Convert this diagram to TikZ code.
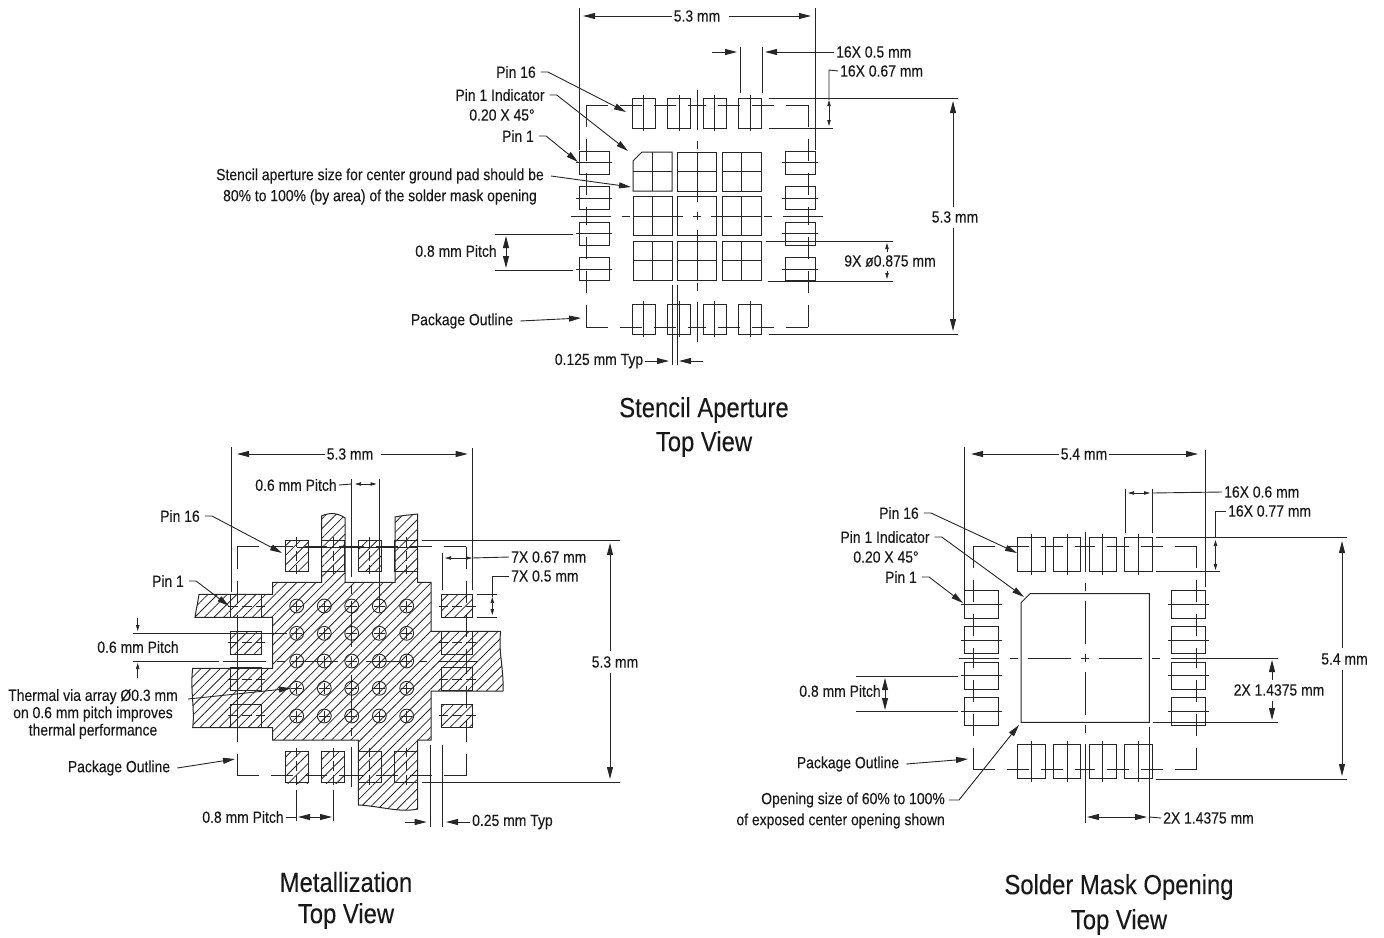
\documentclass[tikz,border=0pt]{standalone}
\usepackage{fontspec}
\setmainfont[FakeStretch=0.86,FakeBold=0.15]{Liberation Sans}
\usetikzlibrary{arrows.meta,patterns.meta}

\begin{document}
\begin{tikzpicture}
[x=1pt,y=-1pt,
  lineDecorate/.style={-,line width=0.9pt,black!85},%
  padDecorate/.style={draw,line width=1pt,black!85},%
  hatchFill/.style={pattern={Lines[angle=45,distance=6.8pt,line width=0.8pt]},pattern color=black!85},%
  hatchDecorate/.style={draw,line width=1pt,black!85,hatchFill},%
  outlineDecorate/.style={line width=1pt,black!85,dash pattern=on 22pt off 12pt},%
  solidCenter/.style={line width=0.9pt,black!85},%
  dashCenter/.style={line width=0.9pt,black!85,dash pattern=on 10pt off 4pt},%
  dimArrow/.style={-{Triangle[length=12pt,width=6pt]},line width=0.9pt,black!85},%
  smallArrow/.style={-{Triangle[length=6pt,width=3.4pt]},line width=0.75pt,black!85},%
  labelDecorate/.style={inner sep=2pt,font=\fontsize{16.2}{17.3}\selectfont,black!90},%
  titleDecorate/.style={inner sep=0pt,font=\fontsize{27.7}{33}\selectfont,black!90}]
\useasboundingbox (0,0) rectangle (1384,937);

%% package outlines
\foreach \cx/\cy/\hw in {697/216/111, 351.5/661/114.5, 1085/658/111.7}
{
  \foreach \sx in {-1,1} \foreach \sy in {-1,1}
  {
    \draw[outlineDecorate] ({\cx+\sx*\hw},{\cy+\sy*\hw}) -- (\cx,{\cy+\sy*\hw});
    \draw[outlineDecorate] ({\cx+\sx*\hw},{\cy+\sy*\hw}) -- ({\cx+\sx*\hw},\cy);
  }
}

%% metallization copper
\draw[hatchDecorate] (272.7,582.3) -- (321.7,582.3) -- (321.7,516) .. controls (330,512) and (338,513) .. (345,518)
  -- (345,582.3) -- (395,582.3) -- (395,517) .. controls (405,515) and (410,515) .. (417.7,514)
  -- (417.7,582.3) -- (431,582.3) -- (431,631.3) -- (500.7,631.3) .. controls (498,650) and (504,670) .. (503,691)
  -- (431,691) -- (431,740) -- (417.7,740) -- (417.7,809) .. controls (400,813) and (380,806) .. (358.3,805)
  -- (358.3,740) -- (272.7,740) -- (272.7,727.7) -- (192.7,727.7) .. controls (195,708) and (190,690) .. (192.7,668.3)
  -- (272.7,668.3) -- (272.7,617.3) -- (195,617.3) .. controls (196,610) and (198,602) .. (199,594.3)
  -- (272.7,594.3) -- cycle;
\foreach \px/\py/\qx/\qy in {285/540/308/571, 358/540/381/571, 231/631/262/654, 442/594/473/617,
  442/704/473/727, 285/752/308/783, 322/752/345/783}
{
  \path[hatchFill] (\px,\py) rectangle (\qx,\qy);
}

%% pads
\foreach \cx/\cy/\pitch/\wide/\long/\ext/\cl in
  {697/216/35.6/23/30/118/solidCenter, 351.5/661/36.6/23/31/121/dashCenter, 1085/658/35.8/27.5/34.5/120.8/solidCenter}
{
  \foreach \k in {-1.5,-0.5,0.5,1.5} \foreach \s in {-1,1}
  {
    \draw[padDecorate] ({\cx+\k*\pitch-\wide/2},{\cy+\s*\ext}) rectangle ({\cx+\k*\pitch+\wide/2},{\cy+\s*(\ext-\long)});
    \draw[padDecorate] ({\cx+\s*\ext},{\cy+\k*\pitch-\wide/2}) rectangle ({\cx+\s*(\ext-\long)},{\cy+\k*\pitch+\wide/2});
    \draw[\cl] ({\cx+\k*\pitch},{\cy+\s*(\ext+3)}) -- ({\cx+\k*\pitch},{\cy+\s*(\ext-\long-3)});
    \draw[\cl] ({\cx+\s*(\ext+3)},{\cy+\k*\pitch}) -- ({\cx+\s*(\ext-\long-3)},{\cy+\k*\pitch});
  }
}

%% center lines
\foreach \cx/\cy in {697/216, 351.5/661, 1085/658}
{
  \foreach \from/\to in {-4/4, 14/57, -57/-14, 67/75, -75/-67, 86/126, -126/-86}
  {
    \draw[lineDecorate] ({\cx+\from},\cy) -- ({\cx+\to},\cy);
    \draw[lineDecorate] (\cx,{\cy+\from}) -- (\cx,{\cy+\to});
  }
}

%% stencil center pads
\foreach \cx/\cy in {652.5/216, 741.5/216, 652.5/260.5, 697/260.5, 741.5/260.5, 697/171.5, 741.5/171.5, 697/216}
{
  \draw[padDecorate] ({\cx-19.5},{\cy-19.5}) rectangle ({\cx+19.5},{\cy+19.5});
}
\draw[padDecorate] (642,152) -- (672,152) -- (672,191) -- (633,191) -- (633,161) -- cycle;
\foreach \cx/\cy in {652.5/171.5, 652.5/216, 741.5/216, 652.5/260.5, 697/260.5, 741.5/260.5, 697/171.5, 741.5/171.5}
{
  \draw[lineDecorate] ({\cx-19.5},\cy) -- ({\cx+19.5},\cy);
  \draw[lineDecorate] (\cx,{\cy-19.5}) -- (\cx,{\cy+19.5});
}

%% solder mask center opening
\draw[padDecorate] (1030,593.7) -- (1149.3,593.7) -- (1149.3,722.3) -- (1021,722.3) -- (1021,602.7) -- cycle;

%% metallization vias
\foreach \vx in {296.7,324.3,351.7,379.3,406.7} \foreach \vy in {606,633.3,661,688.3,716}
{
  \draw[lineDecorate] (\vx,\vy) circle (6.9);
  \draw[lineDecorate] ({\vx-5.5},\vy) -- ({\vx+5.5},\vy);
  \draw[lineDecorate] (\vx,{\vy-5.5}) -- (\vx,{\vy+5.5});
}

%% extension lines
\foreach \xa/\ya/\xb/\yb in {579/8/579/150, 815/8/815/150, 740/47/740/93, 762/47/762/93, 769/98/958/98,
  769/128/833/128, 769/334/958/334, 495/234/573/234, 495/270/573/270, 766/241/893/241, 768/281/893/281,
  672/285/672/365, 677/285/677/365,
  231/447/231/592, 472.7/448/472.7/590, 351.7/479/351.7/576.7, 379.3/479/379.3/610, 442/553/442/590,
  422/540/620/540, 422/782/620/782, 477/594.3/497/594.3, 477/617.5/497/617.5, 133/633.3/287/633.3, 133/661/219/661,
  223/661/265/661, 297/547/418/547, 237/617/237/741,
  296.7/790/296.7/821, 333.3/790/333.3/821, 430.7/745/430.7/827, 442/745/442/827,
  964.3/447/964.3/590, 1205.7/450/1205.7/587, 1125/489/1125/533, 1152.3/489/1152.3/533,
  1156/537.3/1347/537.3, 1156/571.7/1220/571.7, 1156/779/1347/779, 856/676/958/676, 856/711.7/958/711.7,
  1153/722.3/1278/722.3, 1207/658/1278/658, 1085/745/1085/823, 1149.3/727/1149.3/823, 1215.5/511/1215.5/537.3}
{
  \draw[lineDecorate] (\xa,\ya) -- (\xb,\yb);
}

%% stencil view texts
\node (stWidth) at (697,16) [labelDecorate] {5.3 mm};
\node (stPadWide) at (834,52) [labelDecorate,anchor=west] {16X 0.5 mm};
\node (stPadLong) at (838,71) [labelDecorate,anchor=west] {16X 0.67 mm};
\node (stPinSixteen) at (516,72) [labelDecorate] {Pin 16};
\node (stIndicator) at (500,95) [labelDecorate] {Pin 1 Indicator};
\node (stIndicatorB) at (502,115) [labelDecorate] {0.20 X 45°};
\node (stPinOne) at (518,136) [labelDecorate] {Pin 1};
\node (stAperture) at (546,176) [labelDecorate,anchor=east] {Stencil aperture size for center ground pad should be};
\node (stApertureB) at (539,197) [labelDecorate,anchor=east] {80\% to 100\% (by area) of the solder mask opening};
\node (stPitch) at (456,251) [labelDecorate] {0.8 mm Pitch};
\node (stOutline) at (462,321) [labelDecorate] {Package Outline};
\node (stGap) at (599,361) [labelDecorate] {0.125 mm Typ};
\node (stHeight) at (955,217) [labelDecorate] {5.3 mm};
\node (stDia) at (890,261) [labelDecorate] {9X ø0.875 mm};
\node (stTitle) at (704,410) [titleDecorate] {Stencil Aperture};
\node (stTitleB) at (704,444) [titleDecorate] {Top View};

%% metallization view texts
\node (meWidth) at (350,454) [labelDecorate] {5.3 mm};
\node (mePitchTop) at (296,485) [labelDecorate] {0.6 mm Pitch};
\node (mePinSixteen) at (180,516) [labelDecorate] {Pin 16};
\node (mePinOne) at (168,581) [labelDecorate] {Pin 1};
\node (mePitchLeft) at (138,647) [labelDecorate] {0.6 mm Pitch};
\node (meThermal) at (93,714) [labelDecorate,align=center] {Thermal via array Ø0.3 mm\\on 0.6 mm pitch improves\\thermal performance};
\node (meOutline) at (119,768) [labelDecorate] {Package Outline};
\node (mePadLong) at (509,557) [labelDecorate,anchor=west] {7X 0.67 mm};
\node (mePadWide) at (509,576) [labelDecorate,anchor=west] {7X 0.5 mm};
\node (meHeight) at (615,662) [labelDecorate] {5.3 mm};
\node (mePitchBottom) at (243,817) [labelDecorate] {0.8 mm Pitch};
\node (meGap) at (470,822) [labelDecorate,anchor=west] {0.25 mm Typ};
\node (meTitle) at (346,882) [titleDecorate] {Metallization};
\node (meTitleB) at (346,916) [titleDecorate] {Top View};

%% solder mask view texts
\node (soWidth) at (1084,454) [labelDecorate] {5.4 mm};
\node (soPadWide) at (1222,492) [labelDecorate,anchor=west] {16X 0.6 mm};
\node (soPadLong) at (1226,511) [labelDecorate,anchor=west] {16X 0.77 mm};
\node (soPinSixteen) at (899,513) [labelDecorate] {Pin 16};
\node (soIndicator) at (885,537) [labelDecorate] {Pin 1 Indicator};
\node (soIndicatorB) at (886,557) [labelDecorate] {0.20 X 45°};
\node (soPinOne) at (901,577) [labelDecorate] {Pin 1};
\node (soPitch) at (840,691) [labelDecorate] {0.8 mm Pitch};
\node (soHeight) at (1344.5,659) [labelDecorate] {5.4 mm};
\node (soPadRow) at (1279,690) [labelDecorate] {2X 1.4375 mm};
\node (soOutline) at (848,764) [labelDecorate] {Package Outline};
\node (soOpening) at (947,800) [labelDecorate,anchor=east] {Opening size of 60\% to 100\%};
\node (soOpeningB) at (947,821) [labelDecorate,anchor=east] {of exposed center opening shown};
\node (soPadCol) at (1161,818) [labelDecorate,anchor=west] {2X 1.4375 mm};
\node (soTitle) at (1119,887) [titleDecorate] {Solder Mask Opening};
\node (soTitleB) at (1119,922) [titleDecorate] {Top View};

%% free ends of the arrows
\foreach \nodename/\x/\y in {stWidthL/583/16, stWidthR/811/16, stWidthS/729/16, stPadA/737/52, stPadAs/712/52, stPadB/765/52,
  stHeightT/953/101, stHeightU/953/207, stHeightD/953/228, stHeightB/953/331, stGapA/669/361, stGapB/679/361, stGapAs/703/361,
  stPadT/829/100, stPadM/829/113, stPadE/829/126, stPitchT/506/236, stPitchM/506/252, stPitchB/506/268,
  stDiaT/887/243, stDiaTs/887/252, stDiaB/887/279, stDiaBs/887/271,
  meWidthL/237/454, meWidthR/467.7/454, meWidthS/381/454, meHeightT/610/543, meHeightU/610/651, meHeightD/610/673, meHeightB/610/779,
  mePitchA/355/484, mePitchB/376.5/484, mePitchM/365/484, mePitchE/351.7/484, meLongA/445/558, meLongB/472/558, meLongM/458/558,
  meWideT/492.3/597, meWideM/492.3/607, meWideE/492.3/615, meWideH/492.3/576, meViewT/137.7/631, meViewTs/137.7/618,
  meViewB/137.7/663, meViewBs/137.7/678, mePitchP/298/817, mePitchQ/332/817, mePitchR/315/817, mePitchL/296.7/817,
  meGapA/426.7/822, meGapAs/405/822, meGapB/446/822, meThermalS/188/699,
  soWidthL/971/454, soWidthR/1198/454, soHeightT/1342/541, soHeightU/1342/648, soHeightD/1342/670, soHeightB/1342/776,
  soPadA/1128/493, soPadB/1150/493, soPadM/1138/493, soPadE/1152.3/493, soLongT/1215.5/540, soLongM/1215.5/555, soLongE/1215.5/570, soLongH/1215.5/511,
  soPitchT/885/678, soPitchM/885/694, soPitchB/885/710, soRowT/1272/660, soRowU/1272/680, soRowD/1272/701, soRowB/1272/720,
  soColA/1087/817, soColM/1117/817, soColB/1147/817, soColE/1149.3/817, stPadH/829/70}
{
  \coordinate (\nodename) at (\x,\y);
}

%% dimension arrows
\path
\foreach \startnode/\endnode in {stWidth.west/stWidthL, stWidthS/stWidthR, stPadAs/stPadA, stPadWide.west/stPadB,
  stHeightU/stHeightT, stHeightD/stHeightB, stGap.east/stGapA, stGapAs/stGapB,
  stPitchM/stPitchT, stPitchM/stPitchB,
  meWidth.west/meWidthL, meWidthS/meWidthR, meHeightU/meHeightT, meHeightD/meHeightB,
  meGapAs/meGapA, meGap.west/meGapB, mePitchR/mePitchP, mePitchR/mePitchQ,
  soWidth.west/soWidthL, soWidth.east/soWidthR, soHeightU/soHeightT, soHeightD/soHeightB,
  soPitchM/soPitchT, soPitchM/soPitchB, soRowU/soRowT, soRowD/soRowB,
  soColM/soColA, soColM/soColB}
{
  (\startnode) edge[dimArrow] (\endnode)
};

%% small arrows
\path
\foreach \startnode/\endnode in {stPadM/stPadT, stPadM/stPadE, stDiaTs/stDiaT, stDiaBs/stDiaB,
  mePitchM/mePitchA, mePitchM/mePitchB, meLongM/meLongA, meLongM/meLongB, meWideM/meWideT, meWideM/meWideE,
  meViewTs/meViewT, meViewBs/meViewB, soPadM/soPadA, soPadM/soPadB, soLongM/soLongT, soLongM/soLongE}
{
  (\startnode) edge[smallArrow] (\endnode)
};

%% plain tails
\draw[lineDecorate] (stPadLong.west) -- (stPadH) -- (stPadT);
\draw[lineDecorate] (mePitchTop.east) -- (mePitchE);
\draw[lineDecorate] (mePadLong.west) -- (meLongB);
\draw[lineDecorate] (mePadWide.west) -- (meWideH) -- (meWideT);
\draw[lineDecorate] (mePitchBottom.east) -- (mePitchL);
\draw[lineDecorate] (soPadWide.west) -- (soPadE);
\draw[lineDecorate] (soPadLong.west) -- (soLongH);
\draw[lineDecorate] (soColE) -- (soPadCol.west);

%% leaders
\foreach \nodename/\x/\y in {stPinSixteen/626/112, stIndicator/628/151, stPinOne/578/162,
  mePinSixteen/282/553, mePinOne/229/606, soPinSixteen/1017/553, soIndicator/1024/597, soPinOne/963/603}
{
  \coordinate (\nodename Tip) at (\x,\y);
  \draw[dimArrow] (\nodename.east) ++(3,0) -- ++(7,0) -- (\nodename Tip);
}
\foreach \nodename/\x/\y in {stOutline/581/318, meOutline/235/759, soOutline/968/759, stAperture/631/187}
{
  \coordinate (\nodename Tip) at (\x,\y);
  \draw[dimArrow] (\nodename.east) ++(5,0) -- (\nodename Tip);
}
\coordinate (meThermalTip) at (291,688.3);
\draw[dimArrow] (meThermalS) -- (meThermalTip);
\coordinate (soOpeningTip) at (1019,725);
\draw[dimArrow] (soOpening.east) ++(2,0) -- ++(10,0) -- (soOpeningTip);
\end{tikzpicture}
\end{document}
